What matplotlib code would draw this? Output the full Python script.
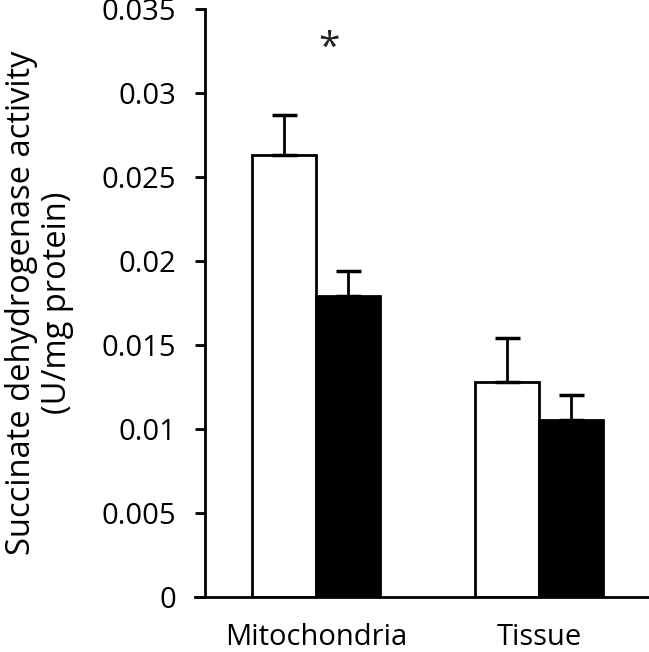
import numpy as np
from matplotlib import pyplot as plt

categories = ['Mitochondria', 'Tissue']
control = [0.0263, 0.0128]
control_err = [0.0024, 0.0026]
treated = [0.0179, 0.0105]
treated_err = [0.0015, 0.0015]
y_ticks = [0, 0.005, 0.01, 0.015, 0.02, 0.025, 0.03, 0.035]
y_ticklabels = ['0', '0.005', '0.01', '0.015', '0.02', '0.025', '0.03', '0.035']

plt.rcParams['font.family'] = ['Open Sans', 'DejaVu Sans']

fig = plt.figure(figsize=(6.49, 6.52), dpi=100)
ax = fig.add_axes([0.3166, 0.0848, 0.6834, 0.9014])

x = np.arange(len(categories))
w = 0.287
err_kw = dict(ecolor='black', elinewidth=2, capsize=9, capthick=2.5)

ax.bar(x - w / 2, control, w, color='white', edgecolor='black', linewidth=2,
       yerr=[np.zeros(len(control)), control_err], error_kw=err_kw, zorder=2)
ax.bar(x + w / 2, treated, w, color='black', edgecolor='black', linewidth=2,
       yerr=[np.zeros(len(treated)), treated_err], error_kw=err_kw, zorder=2)

# significance marker
ax.text(0.06, 0.0326, '*', ha='center', va='center', fontsize=28, color='#222222')

ax.set_xlim(-0.4955, 1.493)
ax.set_ylim(0, 0.035)
ax.set_xticks(x)
ax.set_xticklabels(categories, fontsize=21)
ax.set_yticks(y_ticks)
ax.set_yticklabels(y_ticklabels, fontsize=21)
ax.tick_params(axis='x', length=0, pad=19)
ax.tick_params(axis='y', direction='out', length=7, width=2, pad=14)

for side in ['top', 'right']:
    ax.spines[side].set_visible(False)
for side in ['left', 'bottom']:
    ax.spines[side].set_linewidth(2)
ax.spines['bottom'].set_bounds(-0.542, 1.493)

ax.set_ylabel('Succinate dehydrogenase activity\n(U/mg protein)', fontsize=23.5,
              linespacing=1.1, labelpad=20)

plt.savefig('out.png', dpi=100)
